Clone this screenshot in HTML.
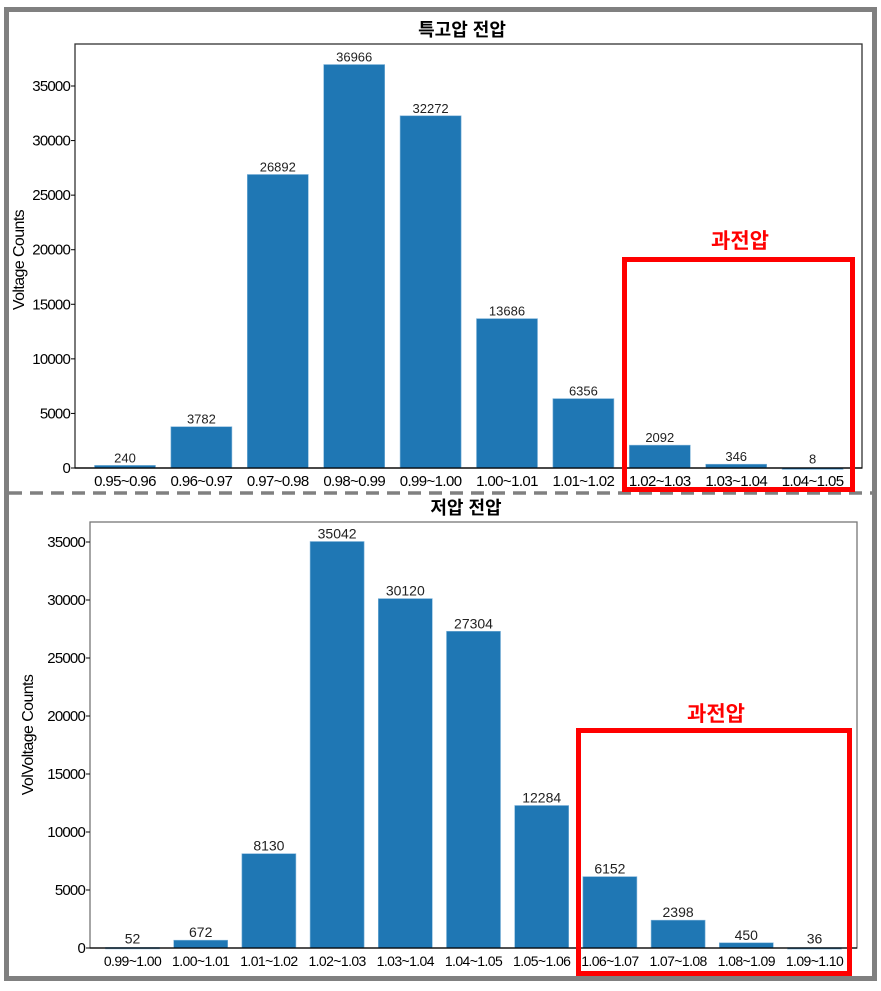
<!DOCTYPE html>
<html><head><meta charset="utf-8"><style>
body{margin:0;background:#fff;}
svg text{font-family:"Liberation Sans","Noto Sans CJK KR",sans-serif;}
</style></head><body>
<svg width="881" height="986" viewBox="0 0 881 986" xmlns="http://www.w3.org/2000/svg">
<rect x="6.5" y="9.5" width="868" height="969" fill="#fff" stroke="#808080" stroke-width="5"/>
<line x1="9" y1="493" x2="872" y2="493" stroke="#808080" stroke-width="3.5" stroke-dasharray="13,8"/>
<g id="top"></g>
<g id="bot"></g>
<rect x="624.5" y="259.5" width="228" height="230" fill="none" stroke="#ff0000" stroke-width="5"/>
<text x="740" y="248" font-size="21" font-weight="bold" fill="#ff0000" text-anchor="middle">과전압</text>
<rect x="578.5" y="730.5" width="271" height="243" fill="none" stroke="#ff0000" stroke-width="5"/>
<text x="716" y="721" font-size="21" font-weight="bold" fill="#ff0000" text-anchor="middle">과전압</text>
</svg>
<script>
const topCategories=["0.95~0.96","0.96~0.97","0.97~0.98","0.98~0.99","0.99~1.00","1.00~1.01","1.01~1.02","1.02~1.03","1.03~1.04","1.04~1.05"];
const topValues=[240,3782,26892,36966,32272,13686,6356,2092,346,8];
const botCategories=["0.99~1.00","1.00~1.01","1.01~1.02","1.02~1.03","1.03~1.04","1.04~1.05","1.05~1.06","1.06~1.07","1.07~1.08","1.08~1.09","1.09~1.10"];
const botValues=[52,672,8130,35042,30120,27304,12284,6152,2398,450,36];
const yTicks=[0,5000,10000,15000,20000,25000,30000,35000];
const NS="http://www.w3.org/2000/svg";
function mk(tag,attrs,parent,txt){const e=document.createElementNS(NS,tag);for(const k in attrs)e.setAttribute(k,attrs[k]);if(txt!=null)e.textContent=txt;parent.appendChild(e);return e;}
function chart(g,o,cats,vals,prefix){
  const y=v=>o.base-v*o.ppu;
  const x=i=>o.c0+i*o.step;
  const frame=mk('rect',{x:o.left,y:o.top,width:o.right-o.left,height:o.base-o.top,fill:'none',stroke:o.spine,'stroke-width':1.3},g);
  
  
  yTicks.forEach(t=>{
    const l=mk('line',{x1:o.left-4,x2:o.left,y1:y(t),y2:y(t),stroke:'#000'},g);
    
    
    const tx=mk('text',{x:o.left-5,y:y(t)+5,'font-size':15,'text-anchor':'end','letter-spacing':'-0.8'},g,String(t));
    
    
  });
  cats.forEach((c,i)=>{
    const v=vals[i];
    const b=mk('rect',{x:x(i)-o.bw/2,y:y(v),width:o.bw,height:Math.max(o.base-y(v),1.5),fill:'#1f77b4',stroke:'#7fb3d9','stroke-width':0.6},g);
    
    
    const vl=mk('text',{x:x(i),y:Math.min(y(v),o.base-1.5)-3,'font-size':o.vfs,'text-anchor':'middle',fill:'#222'},g,String(v));
    
    
    const cl=mk('text',{x:x(i),y:o.base+18,'font-size':o.xfs,'text-anchor':'middle','letter-spacing':'-0.6'},g,c);
    
    
  });
  const ax=mk('line',{x1:o.left,x2:o.right,y1:o.base,y2:o.base,stroke:'#000','stroke-width':1.3},g);
  
  
  const t=mk('text',{x:o.tx,y:o.ty,'font-size':18,'font-weight':'bold','text-anchor':'middle'},g,o.title);
  
  
  const yl=mk('text',{x:0,y:0,'font-size':16,'text-anchor':'middle','letter-spacing':'-0.6',transform:`translate(${o.ylx},${o.yly}) rotate(-90)`},g,o.ylabel);
  
  
}
chart(document.getElementById('top'),{left:75,right:862,top:44,base:468,ppu:382/35000,c0:125,step:76.4,bw:61,vfs:13,xfs:15,spine:'#333',title:'특고압 전압',tx:462,ty:36,ylabel:'Voltage Counts',ylx:24,yly:260},topCategories,topValues,'top');
chart(document.getElementById('bot'),{left:90,right:857,top:522,base:948,ppu:406/35000,c0:132.5,step:68.2,bw:54,vfs:14,xfs:14,spine:'#777',title:'저압 전압',tx:466,ty:514,ylabel:'VolVoltage Counts',ylx:33,yly:735},botCategories,botValues,'bottom');
</script>
</body></html>
